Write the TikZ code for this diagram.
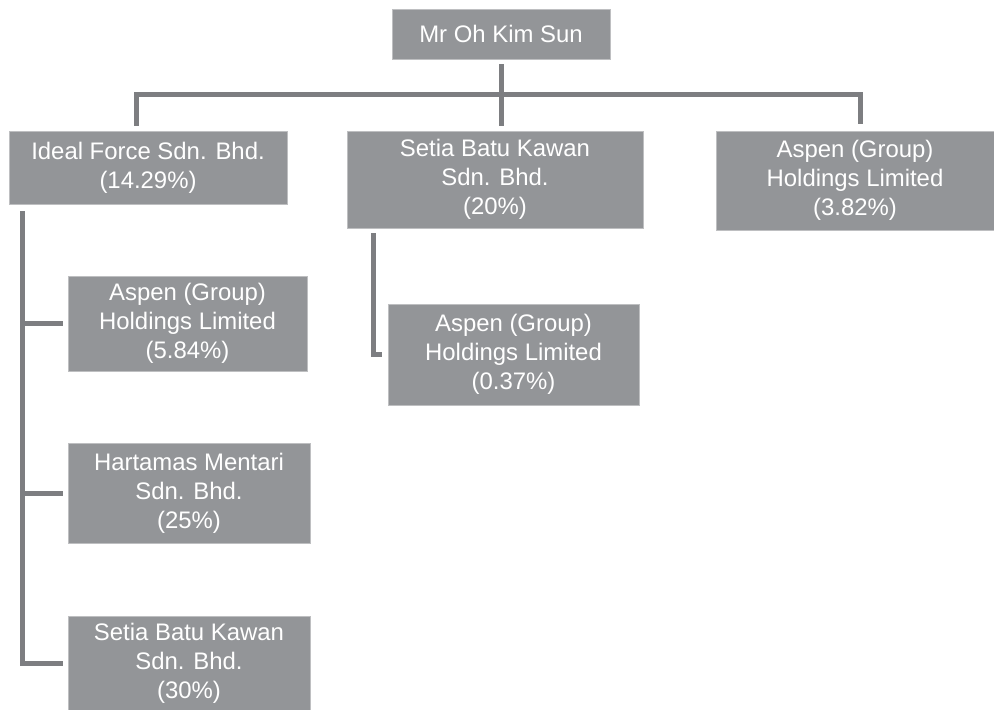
\documentclass[tikz,border=0pt]{standalone}
\usepackage{fontspec}
\setmainfont{Liberation Sans}
\usetikzlibrary{calc}
\definecolor{boxgray}{RGB}{147,149,152}
\definecolor{linegray}{RGB}{125,126,129}
\definecolor{edgegray}{RGB}{190,191,193}
\begin{document}
\begin{tikzpicture}[x=0.025cm, y=-0.025cm,
    box/.style={fill=boxgray, draw=edgegray, line width=0.4pt, text=white, align=center,
        inner sep=0pt, font=\fontsize{17}{20.6}\selectfont},
    link/.style={draw=linegray, line width=0.125cm}]
    \useasboundingbox (0,0) rectangle (994,710);
    % owner and direct holdings
    \node[box, minimum width=5.45cm, minimum height=1.25cm] (oks) at (501,34) {Mr Oh Kim Sun};
    \node[box, minimum width=6.95cm, minimum height=1.825cm] (ideal) at (148,167.5) {Ideal Force Sdn. Bhd.\\(14.29\%)};
    \node[box, minimum width=7.4cm, minimum height=2.425cm] (setia) at (495,179.5) {Setia Batu Kawan\\Sdn. Bhd.\\(20\%)};
    \node[box, minimum width=6.95cm, minimum height=2.475cm] (aspenC) at (855,180.5) {Aspen (Group)\\Holdings Limited\\(3.82\%)};
    % holdings through Ideal Force
    \node[box, minimum width=5.975cm, minimum height=2.375cm] (hold1) at (187.5,323.5) {Aspen (Group)\\Holdings Limited\\(5.84\%)};
    \node[box, minimum width=6.05cm, minimum height=2.5cm] (hold2) at (189,493) {Hartamas Mentari\\Sdn. Bhd.\\(25\%)};
    \node[box, minimum width=6.05cm, minimum height=2.35cm] (hold3) at (189,663) {Setia Batu Kawan\\Sdn. Bhd.\\(30\%)};
    % holding through Setia Batu Kawan
    \node[box, minimum width=6.275cm, minimum height=2.525cm] (aspenB) at (513.5,354.5) {Aspen (Group)\\Holdings Limited\\(0.37\%)};

    % connectors
    \draw[link, shorten <=0.125cm, shorten >=0.125cm] (oks.south) -- (oks.south |- setia.north);
    \draw[link] ($(ideal.north)+(-12,-5)$) -- ++(0,-31) -| ($(aspenC.north)+(5,-7)$);
    \coordinate (spine) at ($(ideal.south west)+(14,7)$);
    \draw[link] (spine) |- ($(hold3.west)+(-5,0)$);
    \draw[link] (spine |- hold1.west) -- ($(hold1.west)+(-5,0)$);
    \draw[link] (spine |- hold2.west) -- ($(hold2.west)+(-5,0)$);
    \draw[link] ($(setia.south west)+(27,5)$) |- ($(aspenB.west)+(-6,0)$);
\end{tikzpicture}
\end{document}
